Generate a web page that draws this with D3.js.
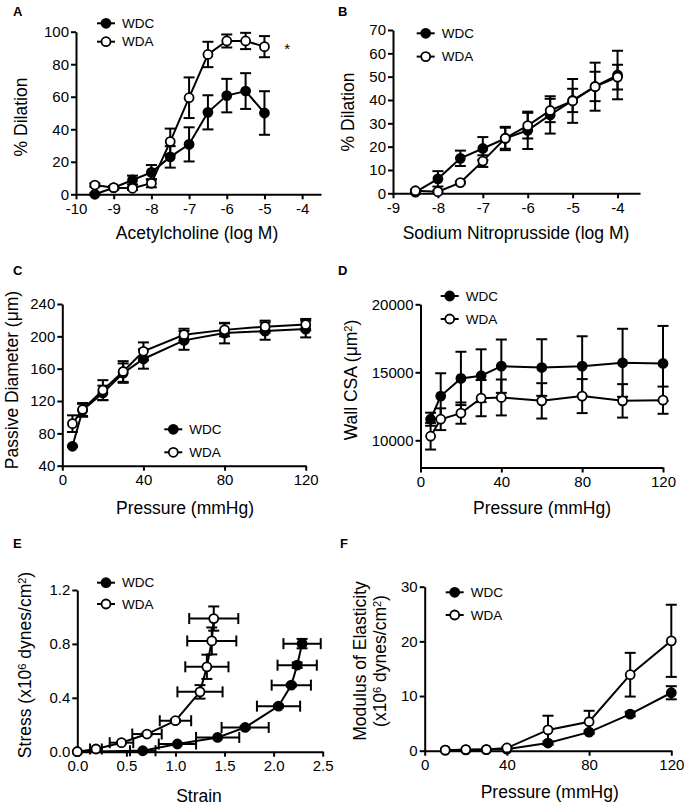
<!DOCTYPE html>
<html>
  <head>
    <title>Vascular function</title>
    <script src="https://cdn.jsdelivr.net/npm/d3@7/dist/d3.min.js"></script>
    <style>
      body { margin: 0; background: #fff; }
      text { font-family: "Liberation Sans", Arial, Helvetica, sans-serif; }
    </style>
  </head>
  <body>
    <svg width="686" height="806" id="mainsvg"></svg>
    <script>
      // ---- data ----
      // A: acetylcholine
      const achDose = [-9.5, -9, -8.5, -8, -7.5, -7, -6.5, -6, -5.5, -5];
      const achWDC = [0, 4, 8.8, 13.5, 23, 30.7, 50.4, 60.7, 63.5, 50];
      const achWDCerr = [0.5, 1, 2.7, 4.5, 6.6, 10.5, 10.5, 10.3, 11, 13.4];
      const achWDA = [5.7, 4.1, 3.7, 6.8, 32.4, 59.4, 86, 94.3, 94.3, 90.8];
      const achWDAerr = [1, 1, 1, 2.5, 8, 12.5, 7.8, 4, 5, 6.5];
      const achXTicks = [-10, -9, -8, -7, -6, -5, -4];
      const achYTicks = [0, 20, 40, 60, 80, 100];

      // B: sodium nitroprusside
      const snpDose = [-8.5, -8, -7.5, -7, -6.5, -6, -5.5, -5, -4.5, -4];
      const snpWDC = [0.5, 6.2, 15, 19.2, 23.5, 27, 33.6, 39.8, 45.8, 50.7];
      const snpWDCerr = [0.5, 3.3, 3.3, 4.9, 5, 8, 8, 5, 6.3, 10.4];
      const snpWDA = [1.1, 0.7, 4.6, 13.8, 23.6, 29, 35.5, 39.6, 45.7, 49.8];
      const snpWDAerr = [0.5, 0.5, 0.5, 2.5, 4.5, 5.5, 5, 9.4, 10.3, 5.3];
      const snpXTicks = [-9, -8, -7, -6, -5, -4];
      const snpYTicks = [0, 10, 20, 30, 40, 50, 60, 70];

      // C: passive diameter
      const pressCD = [5, 10, 20, 30, 40, 60, 80, 100, 120];
      const diamWDC = [64, 108.5, 130, 154.5, 172, 195, 204, 206.5, 209];
      const diamWDCerr = [1, 8, 9, 12, 12, 11.6, 12.7, 10.7, 10.3];
      const diamWDA = [92, 109.5, 133.5, 156.5, 181.5, 202, 208, 212, 214.5];
      const diamWDAerr = [10.3, 8, 12.3, 12.8, 11, 7.4, 8, 7.4, 7];
      const diamYTicks = [40, 80, 120, 160, 200, 240];
      const pressTicks = [0, 40, 80, 120];

      // D: wall CSA
      const csaWDC = [11550, 13250, 14550, 14750, 15450, 15350, 15450, 15700, 15650];
      const csaWDCerr = [480, 1680, 1960, 1940, 1960, 2080, 2200, 2500, 2760];
      const csaWDA = [10300, 11550, 12000, 13100, 13150, 12900, 13250, 12900, 12950];
      const csaWDAerr = [980, 800, 780, 1330, 1320, 1300, 1250, 1230, 1000];
      const csaYTicks = [10000, 15000, 20000];

      // E: stress-strain
      const strainWDC = [0, 0.667, 1.02, 1.43, 1.71, 2.05, 2.18, 2.24, 2.29];
      const strainWDCerr = [0, 0.13, 0.19, 0.22, 0.24, 0.22, 0.2, 0.2, 0.19];
      const stressWDC = [0, 0.007, 0.057, 0.106, 0.18, 0.338, 0.494, 0.642, 0.802];
      const stressWDCerr = [0, 0, 0, 0, 0.01, 0.01, 0.01, 0.02, 0.035];
      const strainWDA = [0, 0.19, 0.45, 0.71, 1.0, 1.25, 1.32, 1.37, 1.39];
      const strainWDAerr = [0, 0.06, 0.12, 0.15, 0.16, 0.23, 0.22, 0.25, 0.25];
      const stressWDA = [0, 0.02, 0.067, 0.131, 0.23, 0.444, 0.63, 0.822, 0.988];
      const stressWDAerr = [0, 0, 0.005, 0.01, 0.01, 0.05, 0.09, 0.1, 0.09];
      const strainTicks = [0, 0.5, 1, 1.5, 2, 2.5];
      const stressTicks = [0, 0.4, 0.8, 1.2];

      // F: modulus of elasticity
      const pressF = [10, 20, 30, 40, 60, 80, 100, 120];
      const modWDC = [0.1, 0.15, 0.2, 0.3, 1.4, 3.4, 6.7, 10.6];
      const modWDCerr = [0, 0, 0, 0, 0.3, 0.3, 0.4, 1.2];
      const modWDA = [0.1, 0.2, 0.2, 0.5, 3.8, 5.3, 13.9, 20.1];
      const modWDAerr = [0, 0, 0, 0.2, 2.6, 2, 4, 6.6];
      const modYTicks = [0, 10, 20, 30];

      const seriesNames = ['WDC', 'WDA'];
      const seriesFill = ['#000', '#fff'];

      // ---- drawing ----
      const svg = d3.select('#mainsvg');
      const R = 4.5, CAP = 5.5, SUP = 5;
      const asStr = d => String(d);

      const zip = (xs, ys, xe, ye) => xs.map((v, i) => ({x: v, y: ys[i], xe: xe ? xe[i] : 0, ye: ye ? ye[i] : 0}));

      function drawPanel(p) {
        const g = svg.append('g');
        const x = d3.scaleLinear().domain(p.xDomain).range([p.left, p.right]);
        const y = d3.scaleLinear().domain(p.yDomain).range([p.bottom, p.top]);

        const xAxis = d3.axisBottom(x).tickValues(p.xTicks).tickSize(5)
          .tickSizeOuter(0).tickPadding(4).tickFormat(p.xFmt || asStr);
        const yAxis = d3.axisLeft(y).tickValues(p.yTicks).tickSize(5)
          .tickSizeOuter(0).tickPadding(2).tickFormat(p.yFmt || asStr);
        [g.append('g').attr('transform', `translate(0,${p.bottom})`).call(xAxis),
         g.append('g').attr('transform', `translate(${p.left},0)`).call(yAxis)]
          .forEach(a => {
            a.attr('font-family', null).attr('font-size', null);
            a.selectAll('path, line').attr('stroke', '#000').attr('stroke-width', 2);
            a.selectAll('text').attr('fill', '#000').style('font-size', '15px');
          });

        p.series.forEach((data, si) => {
          const sg = g.append('g');
          // error bars
          data.forEach(d => {
            if (d.ye > 0) {
              const y0 = y(d.y - d.ye), y1 = y(d.y + d.ye), cx = x(d.x);
              sg.append('line').attr('x1', cx).attr('x2', cx).attr('y1', y0).attr('y2', y1);
              [y0, y1].forEach(yy => sg.append('line').attr('x1', cx - CAP).attr('x2', cx + CAP).attr('y1', yy).attr('y2', yy));
            }
            if (d.xe > 0) {
              const x0 = x(d.x - d.xe), x1 = x(d.x + d.xe), cy = y(d.y);
              sg.append('line').attr('x1', x0).attr('x2', x1).attr('y1', cy).attr('y2', cy);
              [x0, x1].forEach(xx => sg.append('line').attr('x1', xx).attr('x2', xx).attr('y1', cy - CAP).attr('y2', cy + CAP));
            }
          });
          sg.selectAll('line').attr('stroke', '#000').attr('stroke-width', 2);
          sg.append('path').datum(data)
            .attr('fill', 'none').attr('stroke', '#000').attr('stroke-width', 2)
            .attr('d', d3.line().x(d => x(d.x)).y(d => y(d.y)));
          sg.selectAll('circle').data(data).join('circle')
            .attr('cx', d => x(d.x)).attr('cy', d => y(d.y)).attr('r', R)
            .attr('fill', seriesFill[si]).attr('stroke', '#000').attr('stroke-width', 1.8);
        });

        // legend
        seriesNames.forEach((name, i) => {
          const ly = p.legend[1] + i * p.legend[2], lx = p.legend[0];
          g.append('line').attr('x1', lx - 9).attr('x2', lx + 9).attr('y1', ly).attr('y2', ly)
            .attr('stroke', '#000').attr('stroke-width', 2);
          g.append('circle').attr('cx', lx).attr('cy', ly).attr('r', R)
            .attr('fill', seriesFill[i]).attr('stroke', '#000').attr('stroke-width', 1.8);
          g.append('text').attr('x', lx + 16).attr('y', ly).attr('dy', '0.35em')
            .style('font-size', '13.5px').text(name);
        });

        // panel letter
        g.append('text').attr('x', p.letter[0]).attr('y', p.letter[1])
          .style('font-size', '13px').style('font-weight', 'bold').text(p.name);

        // x title
        g.append('text').attr('x', p.xTitle[0]).attr('y', p.xTitle[1])
          .attr('text-anchor', 'middle').style('font-size', '17.5px').text(p.xLabel);

        // y title(s), rotated; parts are plain strings or {up: '...'} superscripts
        p.yLabel.forEach((parts, li) => {
          const t = g.append('text')
            .attr('transform', `translate(${p.yTitle[0] + li * 20},${p.yTitle[1]}) rotate(-90)`)
            .attr('text-anchor', 'middle').style('font-size', '17.5px');
          let raised = false;
          parts.forEach(s => {
            if (typeof s === 'object') {
              t.append('tspan').attr('dy', raised ? 0 : -SUP).style('font-size', '11px').text(s.up);
              raised = true;
            } else {
              t.append('tspan').attr('dy', raised ? SUP : 0).text(s);
              raised = false;
            }
          });
        });
        return {g, x, y};
      }

      const panelA = drawPanel({
        name: 'A', letter: [13, 16],
        left: 76, right: 321, top: 31.7, bottom: 194.3,
        xDomain: [-10, -3.5], yDomain: [0, 100],
        xTicks: achXTicks, yTicks: achYTicks,
        series: [zip(achDose, achWDC, null, achWDCerr), zip(achDose, achWDA, null, achWDAerr)],
        legend: [106, 23.3, 18.4],
        xTitle: [197, 239], xLabel: 'Acetylcholine (log M)',
        yTitle: [27, 117], yLabel: [['% Dilation']]
      });
      panelA.g.append('text').attr('x', panelA.x(-4.4)).attr('y', panelA.y(91.4) + 8.7)
        .attr('text-anchor', 'middle').style('font-size', '15px').text('*');

      drawPanel({
        name: 'B', letter: [338, 16],
        left: 393, right: 640, top: 30, bottom: 193.3,
        xDomain: [-9, -3.5], yDomain: [0, 70],
        xTicks: snpXTicks, yTicks: snpYTicks,
        series: [zip(snpDose, snpWDC, null, snpWDCerr), zip(snpDose, snpWDA, null, snpWDAerr)],
        legend: [425.7, 33.3, 23.3],
        xTitle: [516, 239], xLabel: 'Sodium Nitroprusside (log M)',
        yTitle: [354, 112], yLabel: [['% Dilation']]
      });

      drawPanel({
        name: 'C', letter: [13, 275],
        left: 62.3, right: 305.7, top: 304, bottom: 465.7,
        xDomain: [0, 120], yDomain: [40, 240],
        xTicks: pressTicks, yTicks: diamYTicks,
        series: [zip(pressCD, diamWDC, null, diamWDCerr), zip(pressCD, diamWDA, null, diamWDAerr)],
        legend: [173.3, 429.3, 23],
        xTitle: [185, 514], xLabel: 'Pressure (mmHg)',
        yTitle: [17.5, 380], yLabel: [['Passive Diameter (\u03bcm)']]
      });

      drawPanel({
        name: 'D', letter: [338, 275],
        left: 420.5, right: 663, top: 304.3, bottom: 467.5,
        xDomain: [0, 120], yDomain: [8000, 20000],
        xTicks: pressTicks, yTicks: csaYTicks,
        series: [zip(pressCD, csaWDC, null, csaWDCerr), zip(pressCD, csaWDA, null, csaWDAerr)],
        legend: [449.7, 296, 23],
        xTitle: [542, 514], xLabel: 'Pressure (mmHg)',
        yTitle: [357, 380], yLabel: [['Wall CSA (\u03bcm', {up: '2'}, ')']]
      });

      drawPanel({
        name: 'E', letter: [13, 548],
        left: 77.3, right: 322.7, top: 590, bottom: 751.7,
        xDomain: [0, 2.5], yDomain: [0, 1.2],
        xTicks: strainTicks, yTicks: stressTicks,
        xFmt: d3.format('.1f'), yFmt: d3.format('.1f'),
        series: [zip(strainWDC, stressWDC, strainWDCerr, stressWDCerr),
                 zip(strainWDA, stressWDA, strainWDAerr, stressWDAerr)],
        legend: [106, 582.7, 21.3],
        xTitle: [199, 802], xLabel: 'Strain',
        yTitle: [31, 665], yLabel: [['Stress (x10', {up: '6'}, ' dynes/cm', {up: '2'}, ')']]
      });

      drawPanel({
        name: 'F', letter: [340, 548],
        left: 424.7, right: 671.3, top: 586.7, bottom: 750.7,
        xDomain: [0, 120], yDomain: [0, 30],
        xTicks: pressTicks, yTicks: modYTicks,
        series: [zip(pressF, modWDC, null, modWDCerr), zip(pressF, modWDA, null, modWDAerr)],
        legend: [454.7, 592.3, 22.7],
        xTitle: [549.7, 798], xLabel: 'Pressure (mmHg)',
        yTitle: [366, 661], yLabel: [['Modulus of Elasticity'], ['(x10', {up: '6'}, ' dynes/cm', {up: '2'}, ')']]
      });
    </script>
  </body>
</html>
